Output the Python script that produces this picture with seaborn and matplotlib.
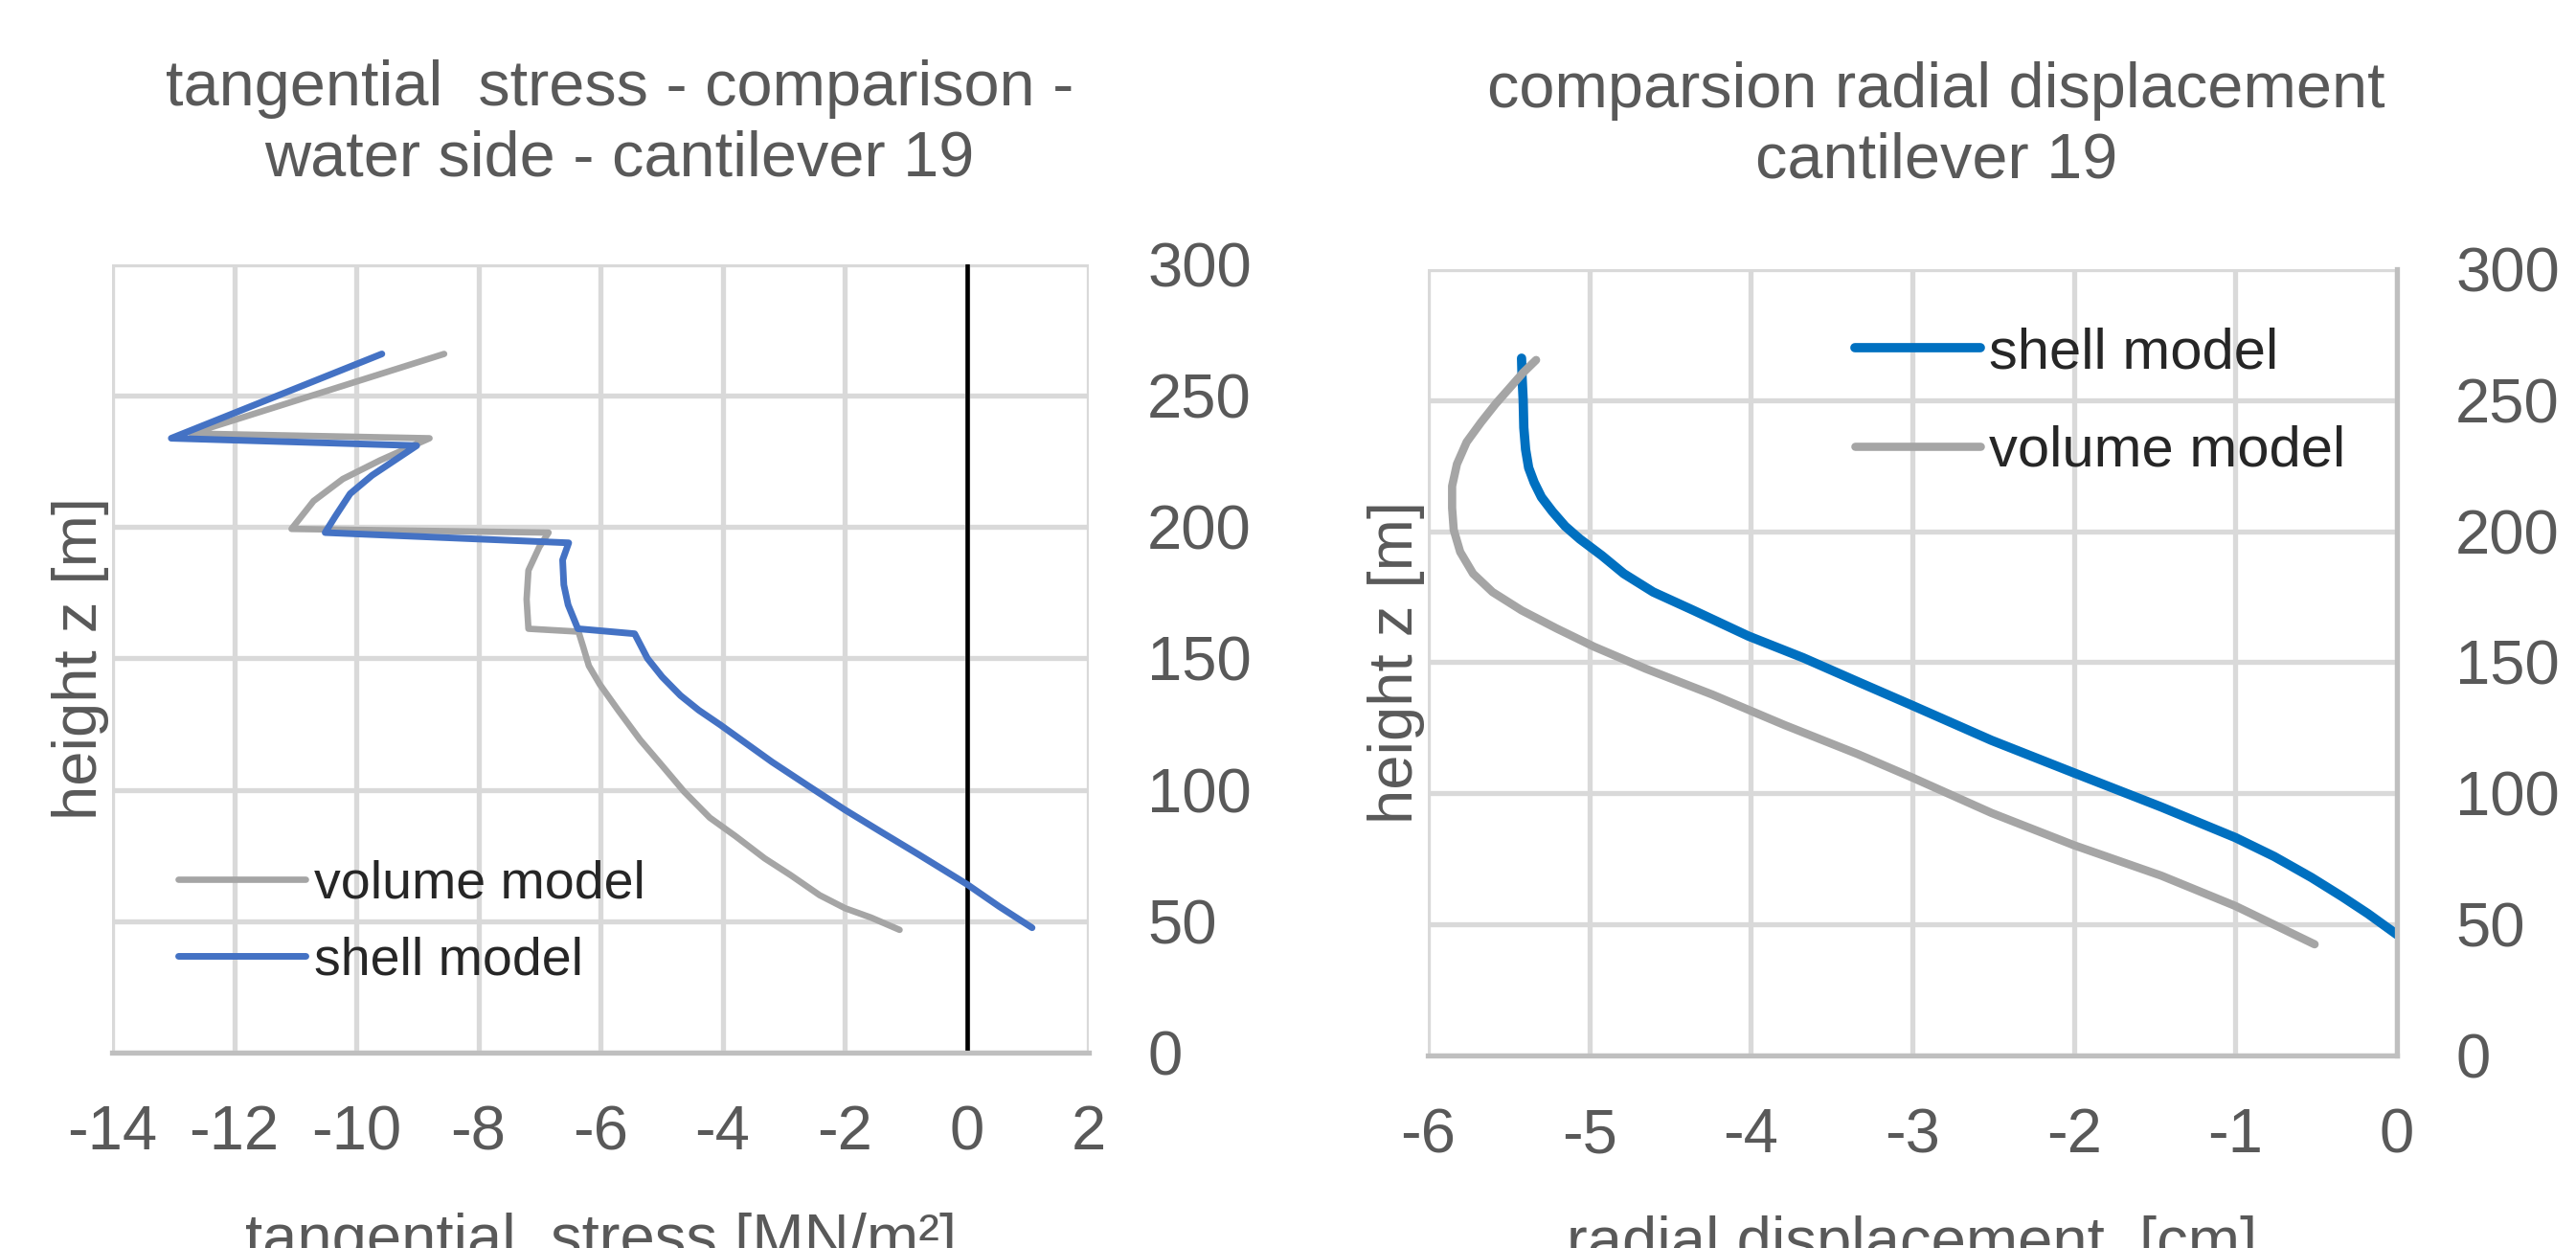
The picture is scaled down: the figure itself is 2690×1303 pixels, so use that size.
#!/usr/bin/env python3
# -*- coding: utf-8 -*-
"""
cantilever 19: tangential stress and radial displacement, shell vs volume model
"""

import matplotlib
matplotlib.use('Agg')
import matplotlib.pyplot as plt
import seaborn as sns

# tangential stress [MN/m²] vs height z [m]
stress_shell_x = [-9.58, -13.03, -9.01, -9.74, -10.10, -10.34, -10.51, -6.52, -6.62, -6.60,
                  -6.53, -6.37, -5.44, -5.23, -4.99, -4.69, -4.39, -4.03, -3.61, -3.19,
                  -2.59, -1.99, -1.39, -0.79, 0.0, 0.53, 1.07]
stress_shell_z = [265.9, 233.8, 231.0, 219.7, 212.7, 204.2, 197.9, 194.0, 187.5, 178.0,
                  170.4, 161.3, 159.4, 150.0, 143.0, 135.9, 130.3, 124.6, 117.6, 110.6,
                  101.4, 92.3, 83.8, 75.4, 64.1, 55.6, 47.5]
stress_volume_x = [-8.56, -12.70, -8.80, -9.61, -10.22, -10.70, -11.06, -6.85, -7.00, -7.18,
                   -7.21, -7.18, -6.36, -6.28, -6.19, -6.01, -5.71, -5.35, -4.99, -4.63,
                   -4.21, -3.79, -3.31, -2.89, -2.41, -1.99, -1.57, -1.10]
stress_volume_z = [265.9, 235.6, 233.8, 225.4, 218.3, 209.9, 199.3, 197.9, 192.5, 183.5,
                   172.5, 161.3, 160.2, 154.2, 147.2, 140.1, 130.3, 119.0, 109.2, 99.3,
                   89.4, 82.4, 73.9, 67.6, 59.9, 54.9, 51.4, 46.7]

# radial displacement [cm] vs height z [m]
disp_shell_x = [-5.42, -5.417, -5.41, -5.406, -5.395, -5.376, -5.342, -5.297, -5.229, -5.15,
                -5.059, -4.923, -4.787, -4.605, -4.356, -4.016, -3.676, -3.336, -3.0, -2.51,
                -2.0, -1.46, -1.0, -0.76, -0.53, -0.34, -0.18, 0.0]
disp_shell_z = [266.0, 259.1, 250.0, 239.5, 231.2, 224.2, 218.6, 213.0, 207.5, 201.9,
                197.0, 190.7, 183.8, 176.8, 169.8, 160.0, 151.7, 142.5, 133.5, 120.2,
                107.8, 94.8, 83.1, 75.9, 67.9, 60.6, 54.1, 46.1]
disp_volume_x = [-5.33, -5.41, -5.49, -5.58, -5.67, -5.76, -5.82, -5.85, -5.85, -5.84,
                 -5.80, -5.72, -5.60, -5.42, -5.20, -4.97, -4.65, -4.24, -3.79, -3.34,
                 -3.00, -2.51, -2.00, -1.46, -1.00, -0.51]
disp_volume_z = [265.3, 260.5, 254.9, 248.6, 241.6, 234.0, 225.6, 217.2, 208.9, 200.5,
                 192.1, 183.8, 176.8, 169.8, 162.8, 155.9, 147.5, 137.7, 126.0, 115.0,
                 106.0, 92.5, 80.2, 68.6, 57.0, 42.4]

stress_ticks = list(range(-14, 3, 2))
disp_ticks = list(range(-6, 1))
height_ticks = list(range(0, 301, 50))

TEXT_GREY = '#595959'
GRID_GREY = '#D9D9D9'
AXIS_GREY = '#BFBFBF'
BLUE_LEFT = '#4472C4'
BLUE_RIGHT = '#0070C0'
GREY_LINE = '#A5A5A5'

sns.set_theme(style='white')
plt.rcParams['font.family'] = ['Liberation Sans', 'DejaVu Sans']
plt.rcParams['axes.unicode_minus'] = False

LINE_KW = dict(sort=False, estimator=None, solid_capstyle='round', solid_joinstyle='round')


def style_axes(ax, xlim, xticks):
    ax.set_xlim(xlim)
    ax.set_ylim(0, 300)
    ax.set_xticks(xticks)
    ax.set_yticks(height_ticks)
    ax.yaxis.tick_right()
    ax.yaxis.set_label_position('left')
    ax.tick_params(axis='both', length=0, labelsize=47, labelcolor=TEXT_GREY)
    ax.tick_params(axis='y', pad=44)
    ax.tick_params(axis='x', pad=39)
    ax.grid(True, color=GRID_GREY, lw=3.8)
    ax.set_axisbelow(True)
    for s in ['top', 'left', 'right']:
        ax.spines[s].set_visible(False)
    ax.spines['bottom'].set_color(AXIS_GREY)
    ax.spines['bottom'].set_linewidth(3.8)
    ax.set_ylabel('height z [m]', fontsize=47, color=TEXT_GREY, labelpad=2)


fig = plt.figure(figsize=(26.9, 13.03), dpi=100)
ax1 = fig.add_axes([0.0435, 0.1566, 0.3792, 0.6316])
ax2 = fig.add_axes([0.5543, 0.1543, 0.3762, 0.6301])

# 左图：切向应力
style_axes(ax1, (-14, 2), stress_ticks)
ax1.axvline(0, color='black', lw=3.3, zorder=1.5)
sns.lineplot(x=stress_volume_x, y=stress_volume_z, color=GREY_LINE, lw=4.8,
             label='volume model', ax=ax1, **LINE_KW)
sns.lineplot(x=stress_shell_x, y=stress_shell_z, color=BLUE_LEFT, lw=5,
             label='shell model', ax=ax1, **LINE_KW)
ax1.set_xlabel('tangential  stress [MN/m²]', fontsize=47, color=TEXT_GREY, labelpad=38)
ax1.legend(loc='center left', bbox_to_anchor=(0.0676, 0.1646), frameon=False,
           fontsize=40, handlelength=2.4, handletextpad=0.15, labelspacing=0.5,
           borderpad=0, borderaxespad=0)

# 右图：径向位移
style_axes(ax2, (-6, 0), disp_ticks)
ax2.spines['right'].set_visible(True)
ax2.spines['right'].set_color(AXIS_GREY)
ax2.spines['right'].set_linewidth(3.8)
sns.lineplot(x=disp_shell_x, y=disp_shell_z, color=BLUE_RIGHT, lw=7,
             label='shell model', ax=ax2, **LINE_KW)
sns.lineplot(x=disp_volume_x, y=disp_volume_z, color=GREY_LINE, lw=6.2,
             label='volume model', ax=ax2, **LINE_KW)
ax2.set_xlabel('radial displacement  [cm]', fontsize=47, color=TEXT_GREY, labelpad=38)
ax2.legend(loc='center left', bbox_to_anchor=(0.4407, 0.8307), frameon=False,
           fontsize=43, handlelength=2.2, handletextpad=0.15, labelspacing=0.8,
           borderpad=0, borderaxespad=0)

fig.text(647 / 2690, 1 - 62 / 1303, 'tangential  stress - comparison -\nwater side - cantilever 19',
         ha='center', va='top', fontsize=48, color=TEXT_GREY, linespacing=1.25)
fig.text(2022 / 2690, 1 - 64 / 1303, 'comparsion radial displacement\ncantilever 19',
         ha='center', va='top', fontsize=48, color=TEXT_GREY, linespacing=1.25)

fig.savefig('out.png', dpi=100)
